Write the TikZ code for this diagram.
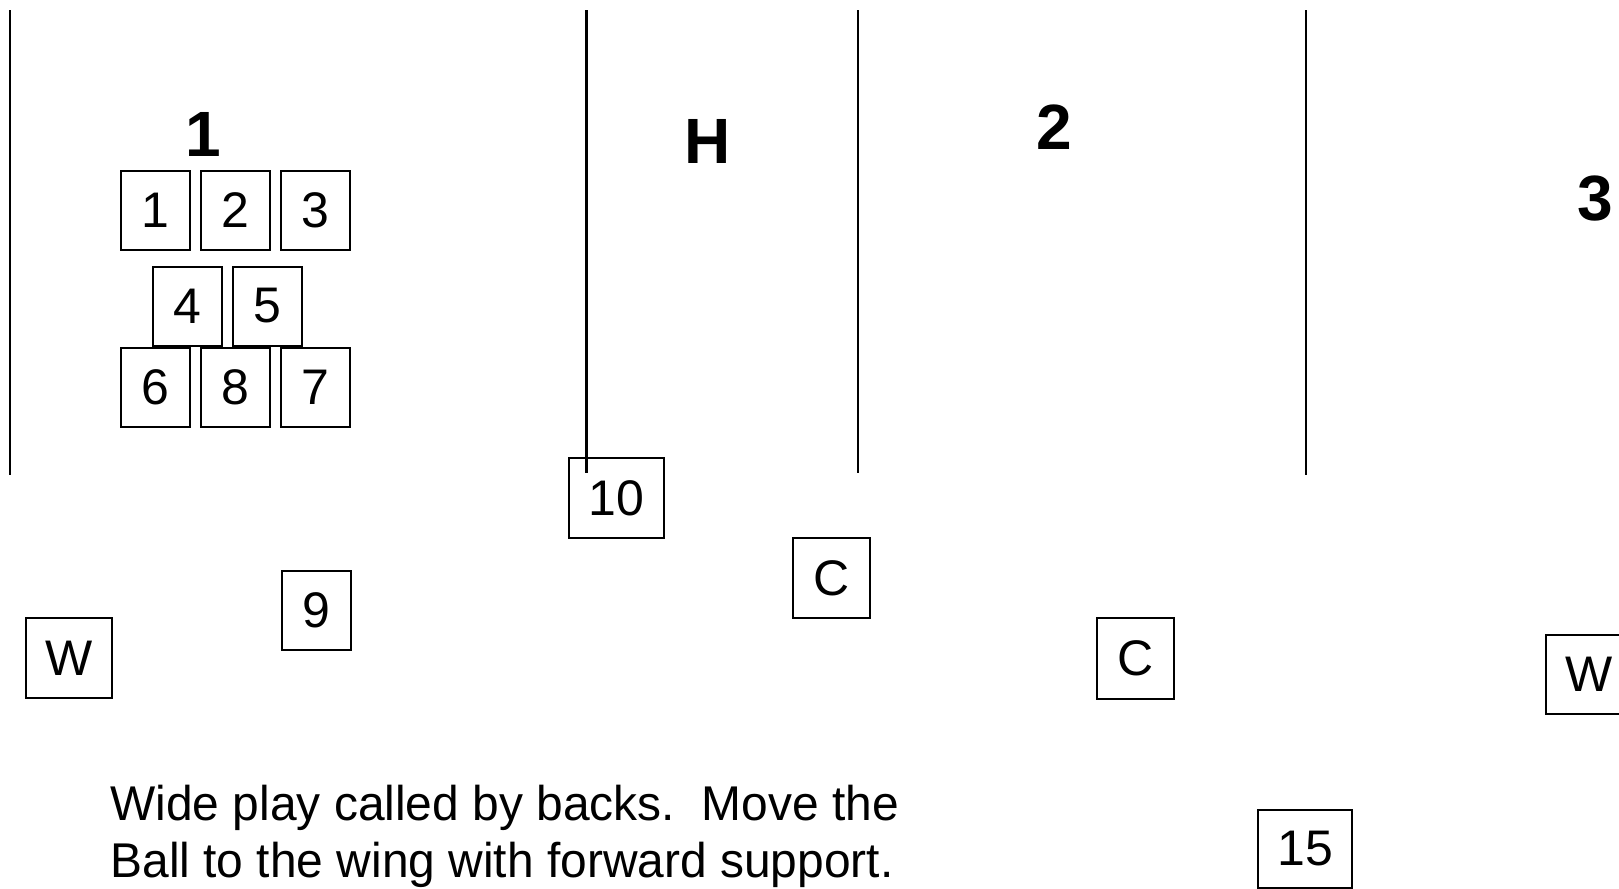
\documentclass[tikz,border=0pt]{standalone}
\usepackage{fontspec}
\setmainfont{Liberation Sans}
\tikzstyle{player} = [rectangle, draw=black, line width=1pt, minimum width=34.5pt, minimum height=39.5pt, inner sep=0pt, font=\fontsize{25}{30}\selectfont]
\tikzstyle{zone} = [inner sep=0pt, font=\fontsize{32}{36}\selectfont\bfseries]
\tikzstyle{line} = [line width=1.3pt]

\begin{document}
\begin{tikzpicture}[x=0.5pt, y=-0.5pt, node distance=40pt]
		\useasboundingbox (0,0) rectangle (1619,889);
		% field lines
		\draw [line] (10,10) -- (10,475);
		\draw [line] (586.5,10) -- (586.5,473);
		\draw [line] (858,10) -- (858,473);
		\draw [line] (1306,10) -- (1306,475);
		% zone labels
		\node (z1) [zone] at (203,134) {1};
		\node (zH) [zone] at (708,141) {H};
		\node (z2) [zone] at (1054,127) {2};
		\node (z3) [zone] at (1595,199) {3};
		% scrum
		\node (p1) [player] at (155.5,210.5) {1};
		\node (p2) [player, right of=p1] {2};
		\node (p3) [player, right of=p2] {3};
		\node (p4) [player] at (187.5,306) {4};
		\node (p5) [player, right of=p4] {5};
		\node (p6) [player] at (155.5,387) {6};
		\node (p8) [player, right of=p6] {8};
		\node (p7) [player, right of=p8] {7};
		% backs
		\node (p9) [player] at (316,610.5) {9};
		\node (p10) [player, minimum width=47.5pt, minimum height=40pt] at (616.5,498) {10};
		\node (wl) [player, minimum width=43pt, minimum height=40pt] at (69,658) {W};
		\node (c1) [player, minimum width=38.5pt, minimum height=40pt] at (831.5,578) {C};
		\node (c2) [player, minimum width=38.5pt, minimum height=40.5pt] at (1135.5,658.5) {C};
		\node (p15) [player, minimum width=47pt, minimum height=39pt] at (1305,849) {15};
		\node (wr) [player, minimum width=43pt, minimum height=39.5pt] at (1589,674.5) {W};
		% note
		\node (note) [anchor=north west, inner sep=0pt, align=left, xscale=0.982, transform shape, font=\fontsize{24.4}{28.5}\selectfont] at (110,785) {Wide play called by backs.\ \ Move the\\Ball to the wing with forward support.};
	\end{tikzpicture}
\end{document}
